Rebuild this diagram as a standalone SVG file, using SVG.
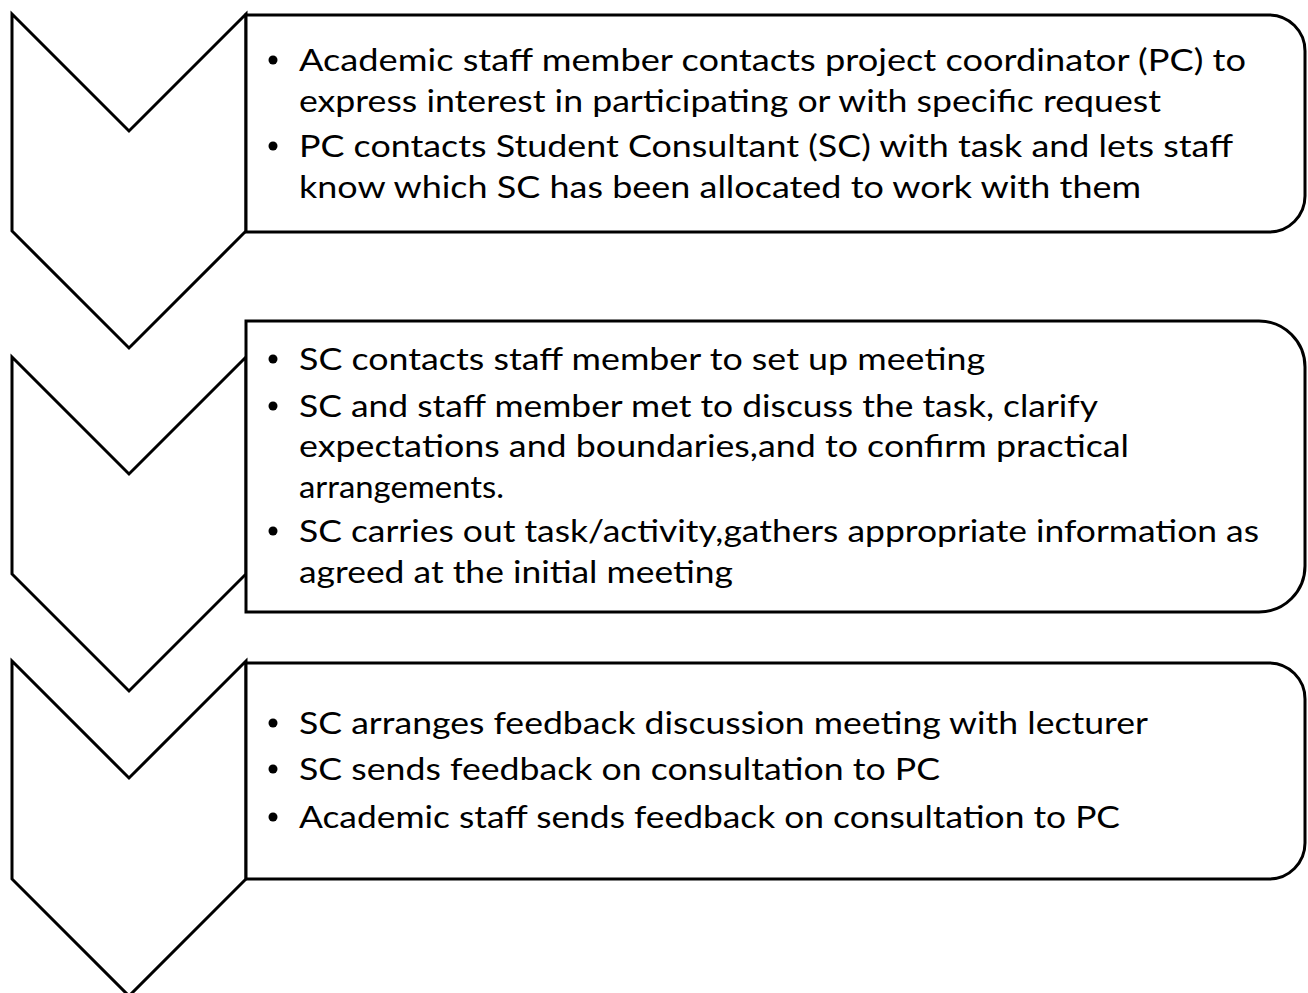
<svg xmlns="http://www.w3.org/2000/svg" width="1308" height="993" viewBox="0 0 1308 993">
<style>
.shape{fill:#fff;stroke:#000;stroke-width:3;stroke-linejoin:miter}
.t{font-family:Lato,"Open Sans","Liberation Sans",sans-serif;font-size:31px;fill:#000}
.b{fill:#000}
</style>
<rect width="1308" height="993" fill="#fff"/>
<g id="connectors"></g>
<g id="chevron1"><path class="shape" d="M12,14 L129,131 L246,14 L246,231 L129,348 L12,231 Z"/></g>
<g id="chevron2"><path class="shape" d="M12,357 L129,474 L246,357 L246,574 L129,691 L12,574 Z"/></g>
<g id="chevron3"><path class="shape" d="M12,661 L129,778 L246,661 L246,879 L129,996 L12,879 Z"/></g>
<g id="box1">
<path class="shape" d="M246,15 H1269 A36,36 0 0 1 1305,51 V196 A36,36 0 0 1 1269,232 H246 Z"/>
<circle class="b" cx="273" cy="60" r="4.5"/>
<circle class="b" cx="273" cy="146" r="4.5"/>
<text class="t" x="299" y="71" textLength="947" lengthAdjust="spacingAndGlyphs">Academic staff member contacts project coordinator (PC) to</text>
<text class="t" x="299" y="112" textLength="862" lengthAdjust="spacingAndGlyphs">express interest in participating or with specific request</text>
<text class="t" x="299" y="157" textLength="934" lengthAdjust="spacingAndGlyphs">PC contacts Student Consultant (SC) with task and lets staff</text>
<text class="t" x="299" y="198" textLength="842" lengthAdjust="spacingAndGlyphs">know which SC has been allocated to work with them</text>
</g>
<g id="box2">
<path class="shape" d="M246,321 H1259 A46,46 0 0 1 1305,367 V566 A46,46 0 0 1 1259,612 H246 Z"/>
<circle class="b" cx="273" cy="359" r="4.5"/>
<circle class="b" cx="273" cy="406" r="4.5"/>
<circle class="b" cx="273" cy="531" r="4.5"/>
<text class="t" x="299" y="370" textLength="686" lengthAdjust="spacingAndGlyphs">SC contacts staff member to set up meeting</text>
<text class="t" x="299" y="417" textLength="799" lengthAdjust="spacingAndGlyphs">SC and staff member met to discuss the task, clarify</text>
<text class="t" x="299" y="457" textLength="830" lengthAdjust="spacingAndGlyphs">expectations and boundaries,and to confirm practical</text>
<text class="t" x="299" y="498" textLength="205" lengthAdjust="spacingAndGlyphs">arrangements.</text>
<text class="t" x="299" y="542" textLength="960" lengthAdjust="spacingAndGlyphs">SC carries out task/activity,gathers appropriate information as</text>
<text class="t" x="299" y="583" textLength="434" lengthAdjust="spacingAndGlyphs">agreed at the initial meeting</text>
</g>
<g id="box3">
<path class="shape" d="M246,663 H1269 A36,36 0 0 1 1305,699 V843 A36,36 0 0 1 1269,879 H246 Z"/>
<circle class="b" cx="273" cy="723" r="4.5"/>
<circle class="b" cx="273" cy="769" r="4.5"/>
<circle class="b" cx="273" cy="817" r="4.5"/>
<text class="t" x="299" y="734" textLength="849" lengthAdjust="spacingAndGlyphs">SC arranges feedback discussion meeting with lecturer</text>
<text class="t" x="299" y="780" textLength="641" lengthAdjust="spacingAndGlyphs">SC sends feedback on consultation to PC</text>
<text class="t" x="299" y="828" textLength="821" lengthAdjust="spacingAndGlyphs">Academic staff sends feedback on consultation to PC</text>
</g>
</svg>
